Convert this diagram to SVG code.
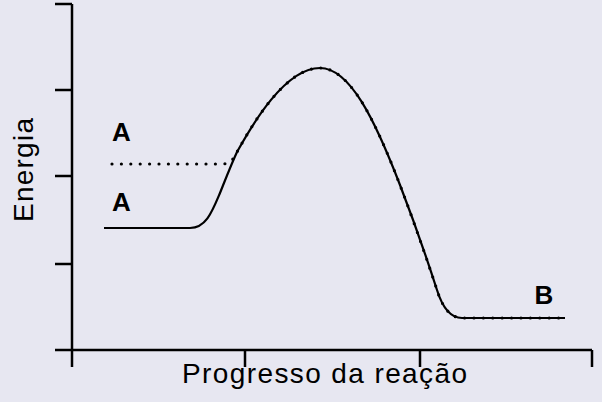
<svg xmlns="http://www.w3.org/2000/svg" width="602" height="402" viewBox="0 0 602 402">
<style>
.ax{stroke:#000;stroke-width:2.5;fill:none}
.curve{stroke:#000;stroke-width:2.2;fill:none}
.dots{stroke:#000;stroke-width:3.2;fill:none;stroke-linecap:round;stroke-dasharray:0 9.4}
.lbl{font-family:"Liberation Sans",Arial,sans-serif;font-weight:bold;font-size:26px;fill:#000}
.axt{font-family:"Liberation Sans",Arial,sans-serif;font-size:28px;fill:#000}
</style>
<rect x="0" y="0" width="602" height="402" fill="#e7e7f1"/>
<g id="axes">
<path class="ax" d="M72,4 V367 M55,4 H72 M55,90 H72 M55,176 H72 M55,264 H72 M55,350 H592 M245,350 V367 M420,350 V367 M592,350 V367"/>
</g>
<g id="connectors">
<path id="pathB" class="curve" d="M104,228 L190,228 C206,228 212,212 220,193 C226,178 231,165 237,152 C252,125 285,68 320,68 C350,68 375,120 400,185 C410,211 428,262 437,290 C442,306 450,318 462,318 L565,318"/>
<path id="pathA" class="dots" d="M112,164 L222,164 C230,164 234,159 237,152 C252,125 285,68 320,68 C350,68 375,120 400,185 C410,211 428,262 437,290 C442,306 450,318 462,318 L565,318"/>
</g>
<g id="labelA1"><text class="lbl" x="121.5" y="141" text-anchor="middle">A</text></g>
<g id="labelA2"><text class="lbl" x="121.5" y="211" text-anchor="middle">A</text></g>
<g id="labelB"><text class="lbl" x="544" y="304" text-anchor="middle">B</text></g>
<g id="ylabel"><text class="axt" transform="translate(33,170) rotate(-90)" text-anchor="middle" textLength="104">Energia</text></g>
<g id="xlabel"><text class="axt" x="324.5" y="383" text-anchor="middle" textLength="285">Progresso da reação</text></g>
</svg>
